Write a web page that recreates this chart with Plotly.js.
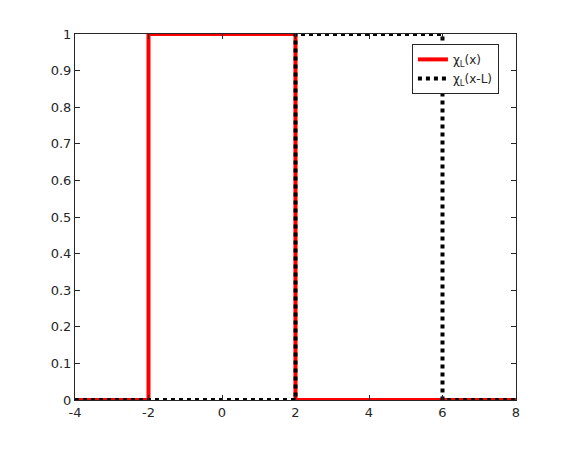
<!DOCTYPE html>
<html><head><meta charset="utf-8">
<script src="https://cdn.plot.ly/plotly-3.0.1.min.js"></script>
<style>body{margin:0;background:#fff}#plot{width:570px;height:450px}</style>
</head><body><div id="plot"></div>
<script>
const xRed = [-4, -2, -2, 2, 2, 8];
const yRed = [0, 0, 1, 1, 0, 0];
const xBlack = [-4, 2, 2, 6, 6, 8];
const yBlack = [0, 0, 1, 1, 0, 0];
const xTicks = [-4, -2, 0, 2, 4, 6, 8];
const yTicks = [0, 0.1, 0.2, 0.3, 0.4, 0.5, 0.6, 0.7, 0.8, 0.9, 1];
const yTickText = ['0','0.1','0.2','0.3','0.4','0.5','0.6','0.7','0.8','0.9','1'];
const names = ['χ<sub>L</sub>(x)', 'χ<sub>L</sub>(x-L)'];

const traces = [
  {x: xRed, y: yRed, mode: 'lines', name: names[0], line: {color: '#ff0000', width: 4}},
  {x: xBlack, y: yBlack, mode: 'lines', name: names[1], line: {color: '#000000', width: 4, dash: 'dot'}}
];
const axisCommon = {
  showgrid: false, zeroline: false, showline: true, linecolor: '#262626', linewidth: 1,
  mirror: 'ticks', ticks: 'inside', ticklen: 5, tickcolor: '#262626', tickwidth: 1,
  tickfont: {family: 'DejaVu Sans', size: 13, color: '#262626'}
};
const layout = {
  width: 570, height: 450,
  margin: {l: 75, r: 54, t: 34, b: 50},
  paper_bgcolor: '#ffffff', plot_bgcolor: '#ffffff',
  showlegend: true,
  xaxis: Object.assign({}, axisCommon, {range: [-4, 8], tickvals: xTicks, ticktext: xTicks.map(String)}),
  yaxis: Object.assign({}, axisCommon, {range: [0, 1], tickvals: yTicks, ticktext: yTickText}),
  legend: {x: 0.764, y: 0.973, xanchor: 'left', yanchor: 'top', bgcolor: '#ffffff',
    bordercolor: '#262626', borderwidth: 1, font: {family: 'DejaVu Sans', size: 12, color: '#262626'},
    tracegroupgap: 0}
};
Plotly.newPlot('plot', traces, layout, {displayModeBar: false, staticPlot: true});
</script></body></html>
